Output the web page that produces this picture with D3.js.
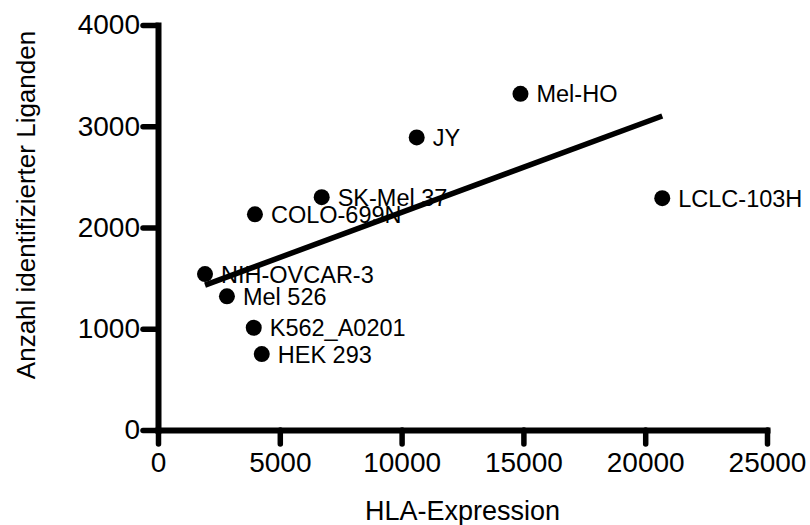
<!DOCTYPE html>
<html>
<head>
<meta charset="utf-8">
<script src="https://cdn.jsdelivr.net/npm/d3@7"></script>
<style>
  body { margin: 0; background: #fff; }
  svg { display: block; font-family: Arial, "Liberation Sans", sans-serif; }
</style>
</head>
<body>
<svg id="chart" width="810" height="525"></svg>
<script>
// cell lines, HLA expression vs number of identified ligands
var cellLines = ['NIH-OVCAR-3', 'Mel 526', 'K562_A0201', 'HEK 293', 'COLO-699N', 'SK-Mel 37', 'JY', 'Mel-HO', 'LCLC-103H'];
var hlaExpression = [1930, 2830, 3930, 4260, 3980, 6720, 10620, 14880, 20700];
var ligandCount = [1540, 1320, 1010, 750, 2130, 2300, 2890, 3320, 2290];

var xTicks = [0, 5000, 10000, 15000, 20000, 25000];
var yTicks = [0, 1000, 2000, 3000, 4000];

var svg = d3.select('#chart');

var x = d3.scaleLinear().domain([0, 25000]).range([158, 767]);
var y = d3.scaleLinear().domain([0, 4000]).range([430, 25]);

var points = cellLines.map(function(name, i) {
	return { name: name, x: hlaExpression[i], y: ligandCount[i] };
});

// linear regression over the points
var mx = d3.mean(points, function(d) { return d.x; }),
	my = d3.mean(points, function(d) { return d.y; });
var sxy = d3.sum(points, function(d) { return (d.x - mx) * (d.y - my); }),
	sxx = d3.sum(points, function(d) { return (d.x - mx) * (d.x - mx); });
var slope = sxy / sxx,
	intercept = my - slope * mx;
var xExt = d3.extent(hlaExpression);
var fit = xExt.map(function(v) { return [v, intercept + slope * v]; });

// axes
var xAxis = svg.append('g')
	.attr('transform', 'translate(0,' + y(0) + ')')
	.call(d3.axisBottom(x).tickValues(xTicks).tickSize(14).tickSizeOuter(0).tickPadding(8).tickFormat(d3.format('d')));
var yAxis = svg.append('g')
	.attr('transform', 'translate(' + x(0) + ',0)')
	.call(d3.axisLeft(y).tickValues(yTicks).tickSize(15).tickSizeOuter(0).tickPadding(3).tickFormat(d3.format('d')));

[xAxis, yAxis].forEach(function(g) {
	g.select('.domain').attr('stroke', '#000').attr('stroke-width', 6).attr('stroke-linecap', 'square');
	g.selectAll('.tick line').attr('stroke', '#000').attr('stroke-width', 5.5).attr('stroke-linecap', 'round');
	g.selectAll('.tick text').attr('fill', '#000').style('font-size', '28px').style('font-family', 'Arial, "Liberation Sans", sans-serif');
});

// dots and labels
svg.append('g').selectAll('circle')
	.data(points)
	.enter().append('circle')
	.attr('cx', function(d) { return x(d.x); })
	.attr('cy', function(d) { return y(d.y); })
	.attr('r', 8)
	.attr('fill', '#000');

svg.append('g').selectAll('text')
	.data(points)
	.enter().append('text')
	.attr('x', function(d) { return x(d.x) + 16; })
	.attr('y', function(d) { return y(d.y); })
	.attr('dy', '0.36em')
	.style('font-size', '23.5px')
	.text(function(d) { return d.name; });

// regression line on top
svg.append('path')
	.datum(fit)
	.attr('fill', 'none')
	.attr('stroke', '#000')
	.attr('stroke-width', 5.5)
	.attr('d', d3.line().x(function(d) { return x(d[0]); }).y(function(d) { return y(d[1]); }));

// axis titles
svg.append('text')
	.attr('x', (x(0) + x(25000)) / 2)
	.attr('y', 520)
	.attr('text-anchor', 'middle')
	.style('font-size', '27px')
	.text('HLA-Expression');

svg.append('text')
	.attr('transform', 'translate(35,205) rotate(-90)')
	.attr('text-anchor', 'middle')
	.style('font-size', '26px')
	.text('Anzahl identifizierter Liganden');
</script>
</body>
</html>
